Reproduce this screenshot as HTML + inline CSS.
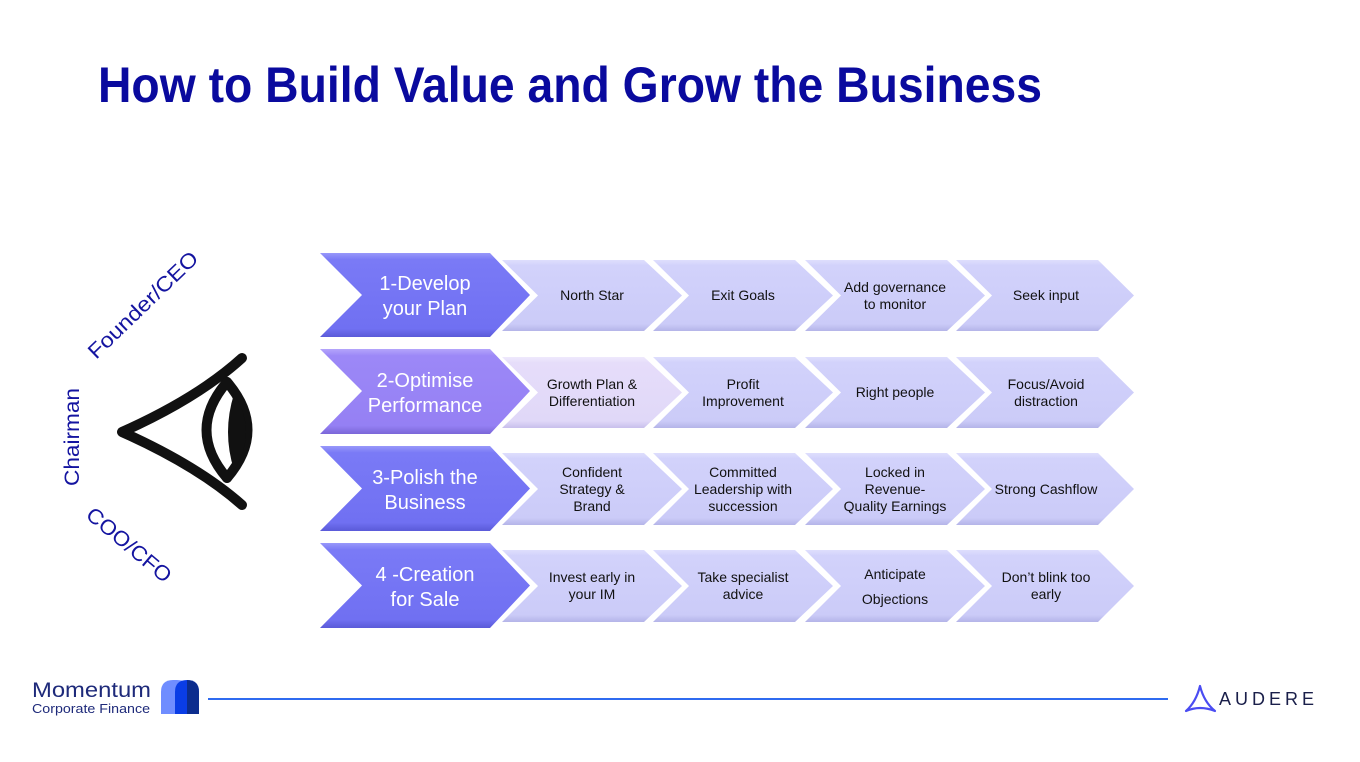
<!DOCTYPE html>
<html>
<head>
<meta charset="utf-8">
<style>
html,body{margin:0;padding:0;background:#fff;}
body{width:1360px;height:762px;overflow:hidden;}
svg{display:block;}
.s{font-family:"Liberation Sans",sans-serif;font-size:14px;fill:#111;text-anchor:middle;}
.b{font-family:"Liberation Sans",sans-serif;font-size:20px;fill:#fff;text-anchor:middle;}
.l{font-family:"Liberation Sans",sans-serif;font-size:21px;fill:#1414a0;text-anchor:middle;}
</style>
</head>
<body>
<svg width="1360" height="762" viewBox="0 0 1360 762" xmlns="http://www.w3.org/2000/svg">
<defs>
  <linearGradient id="sg" x1="0" y1="0" x2="0" y2="1">
    <stop offset="0" stop-color="#dedefd"/>
    <stop offset="0.08" stop-color="#d2d2fb"/>
    <stop offset="0.9" stop-color="#cbcbf8"/>
    <stop offset="1" stop-color="#b4b4e8"/>
  </linearGradient>
  <linearGradient id="sg2" x1="0" y1="0" x2="0" y2="1">
    <stop offset="0" stop-color="#efe9fd"/>
    <stop offset="0.08" stop-color="#e6ddfa"/>
    <stop offset="0.9" stop-color="#e0d8f8"/>
    <stop offset="1" stop-color="#c8bfec"/>
  </linearGradient>
  <linearGradient id="bg1" x1="0" y1="0" x2="0" y2="1">
    <stop offset="0" stop-color="#9898fa"/>
    <stop offset="0.08" stop-color="#7a7af6"/>
    <stop offset="0.9" stop-color="#7070f2"/>
    <stop offset="1" stop-color="#5a5ad8"/>
  </linearGradient>
  <linearGradient id="bg2" x1="0" y1="0" x2="0" y2="1">
    <stop offset="0" stop-color="#b4a4fb"/>
    <stop offset="0.08" stop-color="#9c88f7"/>
    <stop offset="0.9" stop-color="#9580f4"/>
    <stop offset="1" stop-color="#7a66d8"/>
  </linearGradient>
</defs>

<!-- Title -->
<text x="98" y="102" textLength="944" lengthAdjust="spacingAndGlyphs" style="font-family:'Liberation Sans',sans-serif;font-size:50px;font-weight:bold;fill:#0a0a9e;">How to Build Value and Grow the Business</text>

<!-- Eye labels -->
<text class="l" transform="translate(143,305) rotate(-44)" textLength="144" lengthAdjust="spacingAndGlyphs" y="7">Founder/CEO</text>
<text class="l" transform="translate(72,437) rotate(-90)" textLength="98" lengthAdjust="spacingAndGlyphs" y="7">Chairman</text>
<text class="l" transform="translate(129,545) rotate(40)" textLength="104" lengthAdjust="spacingAndGlyphs" y="7">COO/CFO</text>

<!-- Eye -->
<g fill="none" stroke="#111" stroke-width="10" stroke-linecap="round" stroke-linejoin="round">
  <path d="M242,358 Q198,398 122,432 Q198,466 242,505"/>
  <path d="M227,382 Q186,430 227,478"/>
  <path d="M227,382 Q268,430 227,478"/>
</g>
<path d="M234,394 Q222,432 234,470 Q258,432 234,394 Z" fill="#111"/>

<!-- Row 1 -->
<g>
  <polygon points="502,260 644,260 682,295.5 644,331 502,331 538,295.5" fill="url(#sg)"/>
  <polygon points="653,260 795,260 833,295.5 795,331 653,331 689,295.5" fill="url(#sg)"/>
  <polygon points="805,260 947,260 985,295.5 947,331 805,331 841,295.5" fill="url(#sg)"/>
  <polygon points="956,260 1098,260 1134,295.5 1098,331 956,331 992,295.5" fill="url(#sg)"/>
  <polygon points="320,253 490,253 530,295 490,337 320,337 362,295" fill="url(#bg1)"/>
  <text class="b" x="425" y="290">1-Develop</text>
  <text class="b" x="425" y="315">your Plan</text>
  <text class="s" x="592" y="300">North Star</text>
  <text class="s" x="743" y="300">Exit Goals</text>
  <text class="s" x="895" y="292">Add governance</text>
  <text class="s" x="895" y="309">to monitor</text>
  <text class="s" x="1046" y="300">Seek input</text>
</g>

<!-- Row 2 -->
<g>
  <polygon points="502,357 644,357 682,392.5 644,428 502,428 538,392.5" fill="url(#sg2)"/>
  <polygon points="653,357 795,357 833,392.5 795,428 653,428 689,392.5" fill="url(#sg)"/>
  <polygon points="805,357 947,357 985,392.5 947,428 805,428 841,392.5" fill="url(#sg)"/>
  <polygon points="956,357 1098,357 1134,392.5 1098,428 956,428 992,392.5" fill="url(#sg)"/>
  <polygon points="320,349 490,349 530,391 490,434 320,434 362,391" fill="url(#bg2)"/>
  <text class="b" x="425" y="387">2-Optimise</text>
  <text class="b" x="425" y="412">Performance</text>
  <text class="s" x="592" y="389">Growth Plan &amp;</text>
  <text class="s" x="592" y="406">Differentiation</text>
  <text class="s" x="743" y="389">Profit</text>
  <text class="s" x="743" y="406">Improvement</text>
  <text class="s" x="895" y="397">Right people</text>
  <text class="s" x="1046" y="389">Focus/Avoid</text>
  <text class="s" x="1046" y="406">distraction</text>
</g>

<!-- Row 3 -->
<g>
  <polygon points="502,453 644,453 682,489 644,525 502,525 538,489" fill="url(#sg)"/>
  <polygon points="653,453 795,453 833,489 795,525 653,525 689,489" fill="url(#sg)"/>
  <polygon points="805,453 947,453 985,489 947,525 805,525 841,489" fill="url(#sg)"/>
  <polygon points="956,453 1098,453 1134,489 1098,525 956,525 992,489" fill="url(#sg)"/>
  <polygon points="320,446 490,446 530,488.5 490,531 320,531 362,488.5" fill="url(#bg1)"/>
  <text class="b" x="425" y="484">3-Polish the</text>
  <text class="b" x="425" y="509">Business</text>
  <text class="s" x="592" y="477">Confident</text>
  <text class="s" x="592" y="494">Strategy &amp;</text>
  <text class="s" x="592" y="511">Brand</text>
  <text class="s" x="743" y="477">Committed</text>
  <text class="s" x="743" y="494">Leadership with</text>
  <text class="s" x="743" y="511">succession</text>
  <text class="s" x="895" y="477">Locked in</text>
  <text class="s" x="895" y="494">Revenue-</text>
  <text class="s" x="895" y="511">Quality Earnings</text>
  <text class="s" x="1046" y="494">Strong Cashflow</text>
</g>

<!-- Row 4 -->
<g>
  <polygon points="502,550 644,550 682,586 644,622 502,622 538,586" fill="url(#sg)"/>
  <polygon points="653,550 795,550 833,586 795,622 653,622 689,586" fill="url(#sg)"/>
  <polygon points="805,550 947,550 985,586 947,622 805,622 841,586" fill="url(#sg)"/>
  <polygon points="956,550 1098,550 1134,586 1098,622 956,622 992,586" fill="url(#sg)"/>
  <polygon points="320,543 490,543 530,585.5 490,628 320,628 362,585.5" fill="url(#bg1)"/>
  <text class="b" x="425" y="581">4 -Creation</text>
  <text class="b" x="425" y="606">for Sale</text>
  <text class="s" x="592" y="582">Invest early in</text>
  <text class="s" x="592" y="599">your IM</text>
  <text class="s" x="743" y="582">Take specialist</text>
  <text class="s" x="743" y="599">advice</text>
  <text class="s" x="895" y="579">Anticipate</text>
  <text class="s" x="895" y="604">Objections</text>
  <text class="s" x="1046" y="582">Don’t blink too</text>
  <text class="s" x="1046" y="599">early</text>
</g>

<!-- Footer -->
<text x="32" y="697" textLength="119" lengthAdjust="spacingAndGlyphs" style="font-family:'Liberation Sans',sans-serif;font-size:21px;fill:#1e2a7a;">Momentum</text>
<text x="32" y="713" textLength="118" lengthAdjust="spacingAndGlyphs" style="font-family:'Liberation Sans',sans-serif;font-size:13px;fill:#1e2a7a;">Corporate Finance</text>
<path d="M161,714 L161,692 Q161,680 173,680 L177,680 Q189,680 189,692 L189,714 Z" fill="#6f8dff"/>
<path d="M175,714 L175,692 Q175,680 187,680 Q199,680 199,692 L199,714 Z" fill="#0a3de6"/>
<path d="M187,714 L187,680 Q199,680 199,692 L199,714 Z" fill="#0c2d8e"/>
<line x1="208" y1="699" x2="1168" y2="699" stroke="#2f6bf0" stroke-width="2"/>

<path d="M1200,686 Q1196,702 1186,711 Q1200,705 1215,711 Q1204,702 1200,686 Z" fill="none" stroke="#4a4cf2" stroke-width="2.2" stroke-linejoin="round"/>
<text x="1219" y="705" textLength="95" lengthAdjust="spacing" style="font-family:'Liberation Sans',sans-serif;font-size:18px;fill:#1a1f4a;">AUDERE</text>
</svg>
</body>
</html>
